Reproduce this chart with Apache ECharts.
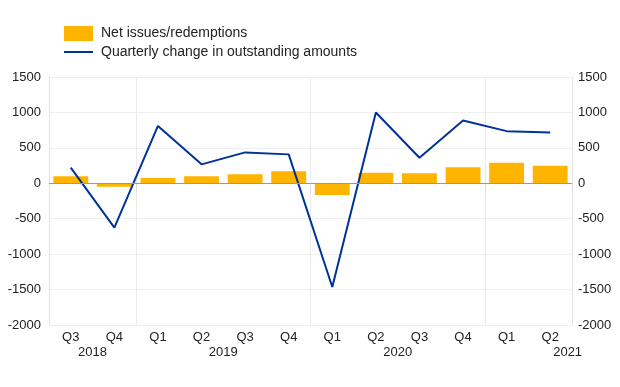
<!DOCTYPE html>
<html>
<head>
<meta charset="utf-8">
<script src="https://cdn.jsdelivr.net/npm/echarts@6/dist/echarts.min.js"></script>
<style>html,body{margin:0;padding:0;background:#fff}#c{width:620px;height:387px}</style>
</head>
<body>
<div id="c"></div>
<script>
var quarters = ['Q3','Q4','Q1','Q2','Q3','Q4','Q1','Q2','Q3','Q4','Q1','Q2'];
var years    = ['2018','2018','2019','2019','2019','2019','2020','2020','2020','2020','2021','2021'];
var netIssues = [98, -48, 75, 98, 127, 169, -165, 150, 141, 225, 290, 248];
var quarterlyChange = [220, -625, 810, 267, 436, 408, -1463, 999, 360, 886, 736, 717];

var categories = quarters.map(function(q, i){ return years[i] + ' ' + q; });
// year label positions derived from the quarters of each year
var yearNames = [], yearPos = [], yearBoundaries = [];
years.forEach(function(y, i){
  if (yearNames.indexOf(y) < 0) { yearNames.push(y); if (i > 0) yearBoundaries.push(i); }
});
yearNames.forEach(function(y, k){
  var first = years.indexOf(y), last = years.lastIndexOf(y);
  var pos = (first + last + 1) / 2;
  if (k === yearNames.length - 1) pos = years.length - 0.1;
  yearPos.push(pos);
});

var font = 'Liberation Sans, Arial, sans-serif';
var plain = function(v){ return String(v); };
var chart = echarts.init(document.getElementById('c'));
chart.setOption({
  animation: false,
  textStyle: { fontFamily: font },
  legend: {
    orient: 'vertical', left: 59, top: 21, itemWidth: 29, itemHeight: 15, itemGap: 4,
    textStyle: { fontSize: 14, color: '#222', fontFamily: font, padding: [0,0,0,3] },
    data: [
      { name: 'Net issues/redemptions', icon: 'rect' },
      { name: 'Quarterly change in outstanding amounts', icon: 'path://M0,0h29v2h-29z' }
    ]
  },
  grid: { left: 49, right: 48, top: 77, bottom: 62 },
  xAxis: [{
    type: 'category', data: categories, position: 'bottom',
    axisLine: { show: true, lineStyle: { color: '#e3e3e3' } },
    axisTick: { show: true, length: 10, interval: function(i){ return yearBoundaries.indexOf(i) >= 0; }, lineStyle: { color: '#dedede' } },
    splitLine: { show: true, interval: function(i){ return yearBoundaries.indexOf(i) >= 0; }, lineStyle: { color: '#ebebeb' } },
    axisLabel: { interval: 0, margin: 6, fontSize: 13, color: '#222', fontFamily: font,
      formatter: function(v){ return v.split(' ')[1]; } }
  }, {
    type: 'value', min: 0, max: years.length, position: 'bottom', offset: 15, gridIndex: 0,
    axisLine: { show: false }, axisTick: { show: false }, splitLine: { show: false },
    axisLabel: { customValues: yearPos, margin: 6, fontSize: 13, color: '#222', fontFamily: font,
      formatter: function(v){ var k = yearPos.indexOf(v); return k >= 0 ? yearNames[k] : ''; } }
  }],
  yAxis: [{
    type: 'value', min: -2000, max: 1500, interval: 500, position: 'left',
    axisLine: { show: true, lineStyle: { color: '#e3e3e3' } }, axisTick: { show: false },
    splitLine: { show: true, lineStyle: { color: '#efefef' } },
    axisLabel: { margin: 8, fontSize: 13, color: '#222', fontFamily: font, formatter: plain }
  }, {
    type: 'value', min: -2000, max: 1500, interval: 500, position: 'right',
    axisLine: { show: true, lineStyle: { color: '#e3e3e3' } }, axisTick: { show: false },
    splitLine: { show: false },
    axisLabel: { margin: 6, fontSize: 13, color: '#222', fontFamily: font, formatter: plain }
  }],
  series: [{
    name: 'Net issues/redemptions', type: 'bar', data: netIssues, barWidth: '80%',
    itemStyle: { color: '#FFB400' }, z: 2,
    markLine: { silent: true, symbol: 'none', label: { show: false },
      lineStyle: { color: '#999', width: 1, type: 'solid' }, data: [{ yAxis: 0 }] }
  }, {
    name: 'Quarterly change in outstanding amounts', type: 'line', data: quarterlyChange,
    symbol: 'none', lineStyle: { color: '#003299', width: 2 }, itemStyle: { color: '#003299' }, z: 3
  }]
});
</script>
</body>
</html>
